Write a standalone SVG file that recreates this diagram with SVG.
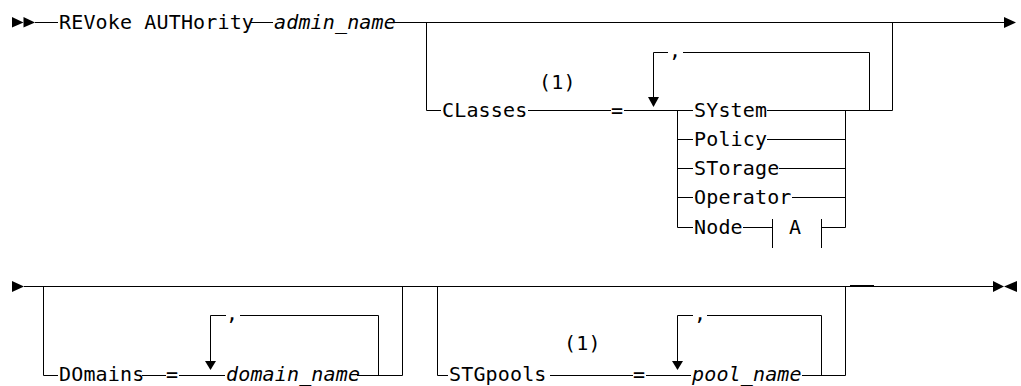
<svg xmlns="http://www.w3.org/2000/svg" width="1021" height="386" viewBox="0 0 1021 386">
<style>
text { font-family: "DejaVu Sans Mono", "Liberation Mono", monospace; font-size: 20px; letter-spacing: 0.15px; fill: #000; }
.v { font-style: italic; }
.ln { stroke: #000; stroke-width: 1; fill: none; }
.mk { fill: #000; }
</style>
<rect width="1021" height="386" fill="#fff"/>
<g id="connectors">
<path class="ln" d="M35 22.5 H58 M251 22.5 H273 M394 22.5 H1004"/>
<path class="ln" d="M426.5 22.5 V110.5 H441 M528 110.5 H611 M624 110.5 H693"/>
<path class="ln" d="M677.5 110.5 V227.5 M677.5 139.5 H693 M677.5 168.5 H693 M677.5 197.5 H693 M677.5 227.5 H693"/>
<path class="ln" d="M767 110.5 H892.5 V22.5 M767 139.5 H845.5 M779 168.5 H845.5 M792 197.5 H845.5 M743 227.5 H772"/>
<path class="ln" d="M772.5 219 V248 M821.5 219 V248 M821.5 227.5 H845.5 M845.5 110.5 V227.5"/>
<path class="ln" d="M653.5 98 V52.5 H668 M683 52.5 H869.5 V110.5"/>
<polygon class="mk" points="648,97 659,97 653.5,107"/>
<polygon class="mk" points="12,17 12,27.5 23.5,22.5"/>
<polygon class="mk" points="23.5,17 23.5,27.5 35,22.5"/>
<polygon class="mk" points="1004,17 1004,28 1016,22.5"/>
<polygon class="mk" points="12,281 12,292 24,286.5"/>
<path class="ln" d="M24 286.5 H993"/>
<rect class="mk" x="850" y="285" width="24" height="2"/>
<polygon class="mk" points="993,281 993,292 1004,286.5"/>
<polygon class="mk" points="1017,281 1017,292 1004,286.5"/>
<path class="ln" d="M43.5 286.5 V375.5 H58 M142 375.5 H166 M179 375.5 H225 M357 375.5 H402.5 V286.5"/>
<path class="ln" d="M210.5 362 V315.5 H226 M240 315.5 H378.5 V375.5"/>
<polygon class="mk" points="205,361 216,361 210.5,370"/>
<path class="ln" d="M437.5 286.5 V375.5 H448 M550 375.5 H633 M646 375.5 H691 M802 375.5 H845.5 V286.5"/>
<path class="ln" d="M677.5 362 V315.5 H693 M707 315.5 H821.5 V375.5"/>
<polygon class="mk" points="672,361 683,361 677.5,370"/>
</g>
<g id="cmd"><text x="59" y="29">REVoke AUTHority</text></g>
<g id="admin_name"><text class="v" x="274" y="29">admin_name</text></g>
<g id="classes"><text x="442" y="117">CLasses</text><text x="539" y="89">(1)</text><text x="611" y="117">=</text><text x="669" y="57">,</text></g>
<g id="system"><text x="694" y="117">SYstem</text></g>
<g id="policy"><text x="694" y="146">Policy</text></g>
<g id="storage"><text x="694" y="175">STorage</text></g>
<g id="operator"><text x="694" y="204">Operator</text></g>
<g id="node"><text x="694" y="234">Node</text></g>
<g id="fragA"><text x="789" y="234">A</text></g>
<g id="domains"><text x="59" y="381">DOmains</text><text x="166" y="381">=</text><text x="226" y="320">,</text></g>
<g id="domain_name"><text class="v" x="226" y="381">domain_name</text></g>
<g id="stgpools"><text x="449" y="381">STGpools</text><text x="564" y="350">(1)</text><text x="633" y="381">=</text><text x="694" y="320">,</text></g>
<g id="pool_name"><text class="v" x="692" y="381">pool_name</text></g>
</svg>
